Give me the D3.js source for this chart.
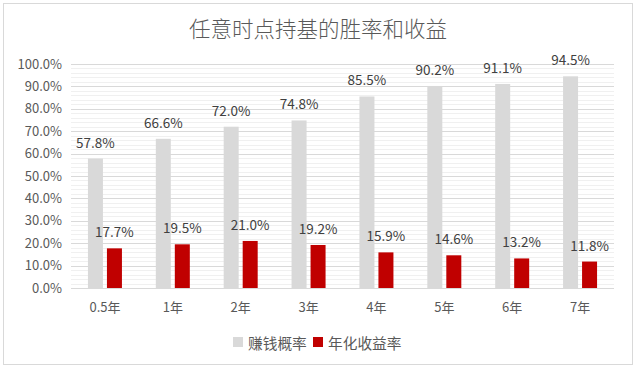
<!DOCTYPE html>
<html><head><meta charset="utf-8">
<script src="https://cdn.jsdelivr.net/npm/d3@7"></script>
<style>body{margin:0;background:#fff}svg{display:block}</style>
</head><body>
<script>
const categories = ["0.5年","1年","2年","3年","4年","5年","6年","7年"];
const winRate = [57.8,66.6,72.0,74.8,85.5,90.2,91.1,94.5];
const annualReturn = [17.7,19.5,21.0,19.2,15.9,14.6,13.2,11.8];
const yTicks = [0,10,20,30,40,50,60,70,80,90,100];
const seriesNames = ["赚钱概率","年化收益率"];
const colors = ["#d9d9d9","#c00000"];

const W=636,H=369;
const svg=d3.select("body").append("svg").attr("width",W).attr("height",H);
const font="'Noto Sans CJK SC','Microsoft YaHei',sans-serif";
svg.append("rect").attr("x",3.5).attr("y",3.5).attr("width",629).attr("height",361).attr("fill","#fff").attr("stroke","#d9d9d9");

svg.append("text").attr("x",318).attr("y",37).attr("text-anchor","middle")
  .attr("font-family",font).attr("font-size",21.5).attr("font-weight",300).attr("fill","#595959").text("任意时点持基的胜率和收益");

const x=d3.scaleBand().domain(categories).range([71,614]);
const y=d3.scaleLinear().domain([0,100]).range([288,64]);

// minor gridlines
const minor=d3.range(0,100,2).filter(v=>v%10!==0);
svg.append("g").selectAll("line").data(minor).join("line")
  .attr("x1",71).attr("x2",614).attr("y1",d=>Math.round(y(d))+0.5).attr("y2",d=>Math.round(y(d))+0.5)
  .attr("stroke","#f0f0f0");
svg.append("g").selectAll("line").data(yTicks).join("line")
  .attr("x1",71).attr("x2",614).attr("y1",d=>Math.round(y(d))+0.5).attr("y2",d=>Math.round(y(d))+0.5)
  .attr("stroke","#d9d9d9");

const yAxis=svg.append("g").attr("transform","translate(71,0)")
  .call(d3.axisLeft(y).tickValues(yTicks).tickFormat(d=>d.toFixed(1)+"%").tickSize(0).tickPadding(9));
yAxis.select(".domain").remove();
yAxis.selectAll("text").attr("font-family",font).attr("font-size",13).attr("fill","#595959");

const xAxis=svg.append("g").attr("transform","translate(0,288)")
  .call(d3.axisBottom(x).tickSize(0).tickPadding(15));
xAxis.select(".domain").remove();
xAxis.selectAll("text").attr("font-family",font).attr("font-size",13).attr("fill","#595959");

const bw=15,gap=4;
const series=[winRate,annualReturn];
series.forEach((vals,si)=>{
  const off = si===0 ? -gap/2-bw : gap/2;
  const g=svg.append("g");
  g.selectAll("rect").data(vals).join("rect")
    .attr("x",(d,i)=>x(categories[i])+x.bandwidth()/2+off)
    .attr("y",d=>y(d)).attr("width",bw).attr("height",d=>y(0)-y(d)).attr("fill",colors[si]);
  g.selectAll("text").data(vals).join("text")
    .attr("x",(d,i)=>x(categories[i])+x.bandwidth()/2+off+bw/2)
    .attr("y",d=>y(d)-11).attr("text-anchor","middle")
    .attr("font-family",font).attr("font-size",13.5).attr("fill","#404040")
    .text(d=>d.toFixed(1)+"%");
});

// legend
const leg=[{x:233,tx:248},{x:313,tx:328}];
seriesNames.forEach((n,i)=>{
  svg.append("rect").attr("x",leg[i].x).attr("y",337).attr("width",10).attr("height",10).attr("fill",colors[i]);
  svg.append("text").attr("x",leg[i].tx).attr("y",348.5).attr("font-family",font).attr("font-size",14.7).attr("fill","#595959").text(n);
});
</script>
</body></html>
